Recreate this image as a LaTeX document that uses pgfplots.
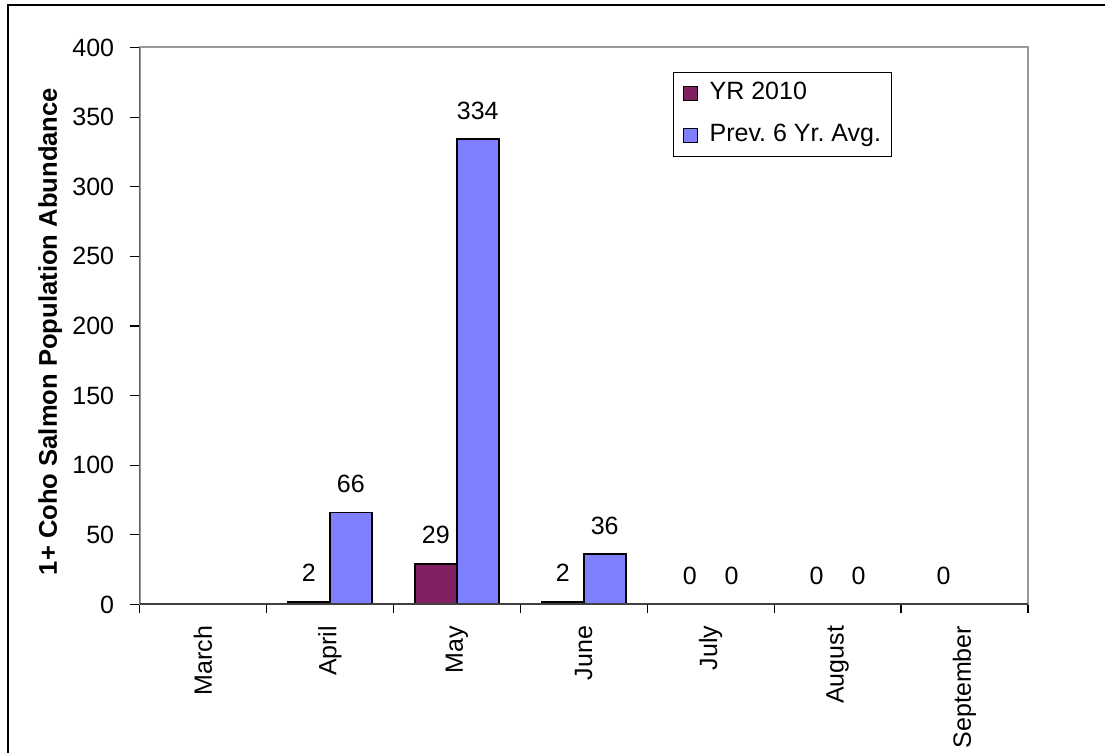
\documentclass[border=0pt]{standalone}
\usepackage{pgfplots}
\pgfplotsset{compat=1.18}
\usepackage{fontspec}
\setmainfont{Liberation Sans}
\definecolor{plum}{RGB}{128,32,96}
\definecolor{periwinkle}{RGB}{128,128,255}
\newcommand\chartfont{\fontsize{12.5pt}{15pt}\selectfont}

\pgfplotsset{
  boxlegend/.style={
    legend image code/.code={%
      \draw[##1, line width=0.6pt] (0pt,-3.5pt) rectangle (7pt,3.5pt);
      \path (12.5pt,0pt);}
  }
}

\begin{document}
\frenchspacing
\begin{tikzpicture}[x=0.5pt,y=0.5pt]
  % page frame (1 unit = one pixel of the final image)
  \useasboundingbox (0,0) rectangle (1105,753);
  \draw[black, line width=0.8pt] (8,-20) -- (8,748) -- (1125,748);

  \begin{axis}[
    at={(69.75pt,74.25pt)}, anchor=south west,
    scale only axis, width=444.25pt, height=278.5pt,
    xmin=-0.5, xmax=6.5, ymin=0, ymax=400,
    ytick={0,50,...,400},
    xtick={0,1,2,3,4,5,6},
    xticklabels={March,April,May,June,July,August,September},
    minor xtick={-0.5,0.5,...,6.5},
    major x tick style={draw=none},
    xticklabel style={rotate=90, anchor=east, inner sep=0pt},
    xticklabel shift=6pt,
    tick align=outside, major tick length=4.5pt, minor tick length=4.5pt,
    tick pos=left,
    tick style={black, line width=0.6pt},
    axis line style={draw=black!40, line width=1pt},
    /pgf/number format/assume math mode=true,
    font=\chartfont,
    ticklabel style={font=\chartfont},
    yticklabel style={inner sep=0pt, xshift=-8pt},
    ylabel={\bfseries 1+ Coho Salmon Population Abundance},
    ylabel style={at={(axis description cs:-0.0929,0.49)}, anchor=base,
      font=\fontsize{12.8pt}{15pt}\selectfont},
    legend style={at={(axis description cs:0.6001,0.9566)}, anchor=north west,
      draw=black, line width=0.5pt, font=\chartfont,
      inner xsep=5pt, inner ysep=4.5pt, row sep=9pt,
      nodes={inner sep=0pt, text height=9pt, text depth=3pt, anchor=west},
      cells={anchor=west}},
    legend cell align=left,
    every node near coord/.append style={font=\chartfont, anchor=south,
      inner sep=0pt, yshift=9.5pt},
  ]
    \addplot[ybar, boxlegend, bar width=0.33, bar shift=-0.165,
      fill=plum, draw=black, line width=0.9pt, nodes near coords,
      every node near coord/.append style={xshift=-10.48pt}]
      coordinates {(1,2) (2,29) (3,2) (4,0) (5,0) (6,0)};
    \addlegendentry{YR 2010}
    \addplot[ybar, boxlegend, bar width=0.33, bar shift=0.165,
      fill=periwinkle, draw=black, line width=0.9pt, nodes near coords,
      every node near coord/.append style={xshift=10.48pt}]
      coordinates {(1,66) (2,334) (3,36) (4,0) (5,0)};
    \addlegendentry{Prev. 6 Yr. Avg.}

    % darker left and bottom axis lines
    \draw[black, line width=0.7pt] (rel axis cs:0,1) -- (rel axis cs:0,0);
    \draw[black!75, line width=1pt] (rel axis cs:0,0) -- (rel axis cs:1,0);
  \end{axis}
\end{tikzpicture}
\end{document}
